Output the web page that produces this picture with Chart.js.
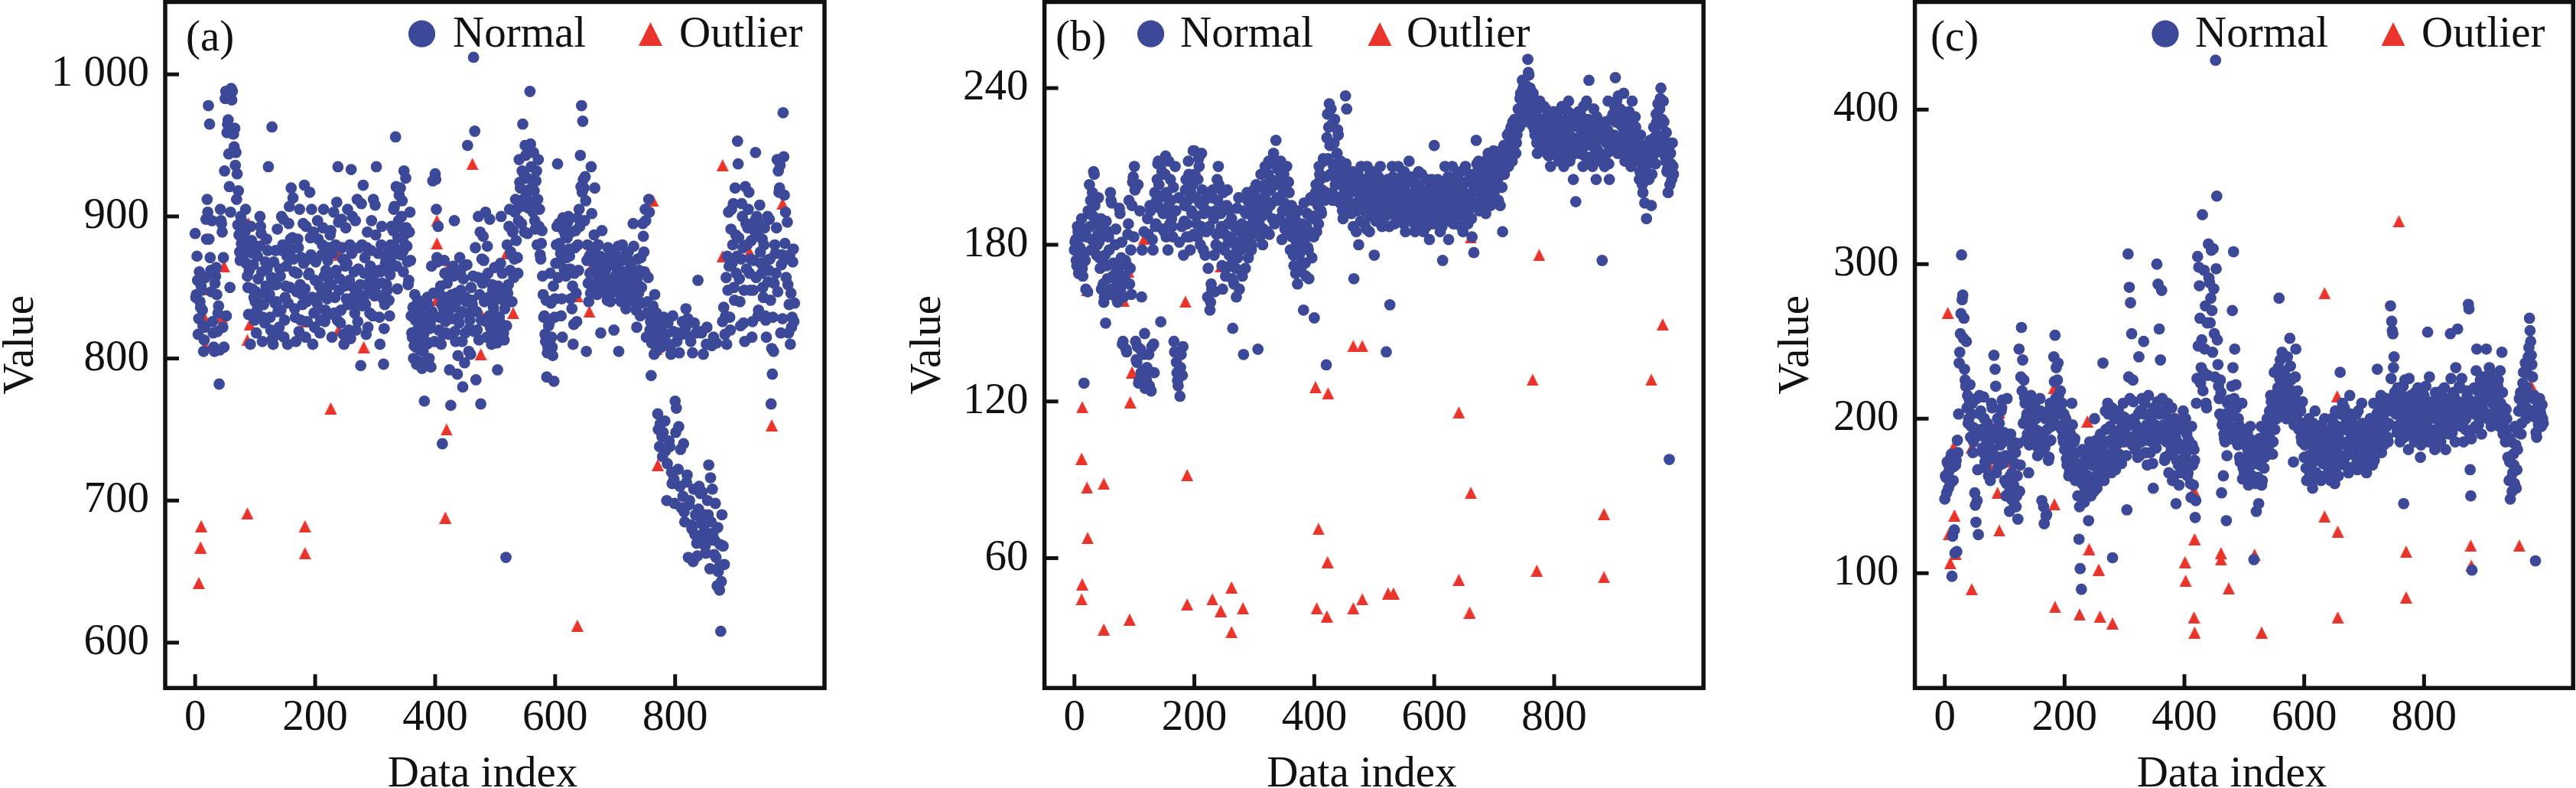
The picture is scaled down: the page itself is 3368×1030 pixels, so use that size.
<!DOCTYPE html>
<html>
<head>
<meta charset="utf-8">
<script src="https://cdn.jsdelivr.net/npm/chart.js@4.4.1/dist/chart.umd.min.js"></script>
<style>
  html, body { margin: 0; padding: 0; background: #ffffff; }
  body { width: 3368px; height: 1030px; position: relative; overflow: hidden; }
  canvas { position: absolute; top: 0; }
</style>
</head>
<body>
<canvas id="ca" width="1140" height="1030" style="left:0px"></canvas>
<canvas id="cb" width="1130" height="1030" style="left:1140px"></canvas>
<canvas id="cc" width="1098" height="1030" style="left:2270px"></canvas>
<script>
// ---------------- DATA ----------------
// Normal series: values at even data indices (0,2,...,998) and odd data indices (1,3,...,999)
const xTickValues = [0, 200, 400, 600, 800];
const yTicksA = [600, 700, 800, 900, 1000];
const yTicksB = [60, 120, 180, 240];
const yTicksC = [100, 200, 300, 400];
const seriesNames = ['Normal', 'Outlier'];
const panelLabels = ['(a)', '(b)', '(c)'];

const normalAEven = [
 888, 845, 855, 828, 840, 851, 834, 805, 822, 898,
 912, 978, 965, 862, 897, 818, 805, 858, 845, 832,
 782, 905, 895, 822, 808, 983, 830, 965, 944, 850,
 990, 988, 958, 962, 945, 930, 918, 875, 900, 885,
 870, 892, 905, 880, 850, 862, 810, 883, 874, 843,
 840, 818, 872, 845, 900, 888, 812, 838, 825, 851,
 863, 935, 845, 820, 963, 810, 852, 876, 840, 833,
 822, 858, 900, 880, 815, 843, 865, 810, 895, 850,
 920, 885, 870, 835, 812, 860, 878, 905, 827, 845,
 895, 922, 815, 840, 870, 860, 885, 905, 810, 832,
 855, 870, 897, 835, 818, 845, 880, 905, 826, 862,
 842, 878, 853, 890, 815, 860, 832, 880, 910, 935,
 848, 825, 898, 870, 810, 865, 842, 905, 820, 880,
 933, 900, 850, 832, 820, 912, 863, 845, 795, 880,
 922, 860, 838, 878, 822, 848, 865, 897, 830, 855,
 908, 935, 845, 862, 810, 880, 853, 796, 838, 870,
 848, 862, 830, 880, 872, 890, 907, 956, 865, 885,
 915, 920, 900, 875, 932, 880, 892, 868, 855, 903,
 830, 815, 800, 845, 808, 820, 798, 830, 812, 793,
 805, 770, 822, 810, 838, 800, 825, 865, 925, 830,
 930, 905, 868, 820, 845, 810, 740, 835, 860, 818,
 853, 830, 792, 767, 845, 865, 897, 812, 840, 802,
 825, 860, 833, 780, 865, 818, 840, 950, 805, 827,
 850, 838, 1012, 960, 785, 820, 900, 845, 768, 870,
 886, 840, 903, 815, 860, 830, 822, 810, 848, 832,
 826, 815, 792, 842, 820, 900, 860, 818, 835, 660,
 880, 852, 905, 875, 840, 890, 870, 912, 905, 860,
 940, 920, 895, 965, 930, 950, 915, 888, 945, 988,
 935, 910, 945, 897, 925, 880, 940, 905, 870, 890,
 845, 830, 812, 787, 808, 825, 860, 815, 802, 784,
 842, 880, 937, 895, 868, 830, 815, 890, 875, 858,
 885, 900, 872, 842, 835, 810, 860, 890, 826, 880,
 905, 943, 978, 967, 920, 928, 805, 880, 840, 860,
 935, 875, 850, 920, 862, 845, 880, 868, 818, 890,
 855, 870, 862, 845, 878, 855, 840, 850, 866, 820,
 858, 872, 848, 805, 862, 840, 880, 852, 845, 835,
 860, 875, 842, 855, 868, 895, 840, 848, 822, 870,
 862, 830, 850, 895, 875, 905, 815, 840, 912, 820,
 788, 830, 812, 845, 805, 825, 750, 738, 820, 745,
 748, 812, 735, 700, 825, 742, 808, 720, 830, 715,
 770, 765, 818, 752, 710, 695, 826, 740, 685, 835,
 718, 660, 700, 812, 680, 657, 825, 690, 670, 855,
 710, 705, 818, 675, 690, 668, 810, 700, 725, 652,
 685, 708, 815, 672, 660, 640, 650, 637, 608, 690,
 668, 655, 830, 810, 848, 865, 820, 905, 880, 850,
 920, 860, 953, 885, 840, 870, 900, 825, 812, 895,
 880, 905, 860, 870, 815, 848, 890, 945, 900, 830,
 895, 875, 860, 850, 880, 830, 815, 900, 862, 870,
 768, 789, 805, 880, 860, 940, 932, 920, 818, 873,
 973, 915, 903, 870, 852, 838, 810, 822, 868, 826
];
const normalAOdd = [
 843, 872, 817, 861, 836, 848, 823, 813, 857, 884,
 903, 884, 871, 847, 826, 808, 853, 864, 819, 837,
 806, 897, 889, 871, 932, 988, 959, 968, 921, 903,
 982, 958, 949, 936, 912, 894, 887, 869, 881, 896,
 876, 889, 867, 858, 831, 878, 893, 849, 866, 827,
 847, 834, 856, 879, 893, 861, 829, 846, 868, 884,
 876, 843, 829, 857, 814, 868, 839, 852, 891, 817,
 863, 834, 876, 898, 827, 851, 872, 839, 907, 884,
 877, 913, 861, 829, 847, 884, 819, 852, 871, 838,
 867, 849, 893, 826, 859, 917, 873, 843, 889, 822,
 868, 839, 884, 851, 827, 873, 892, 858, 834, 847,
 869, 831, 887, 852, 874, 903, 843, 862, 827, 896,
 856, 834, 878, 817, 851, 892, 867, 838, 855, 814,
 874, 843, 861, 897, 838, 826, 878, 852, 909, 837,
 843, 871, 817, 889, 853, 832, 876, 859, 912, 844,
 887, 852, 874, 829, 861, 893, 842, 821, 867, 852,
 874, 841, 859, 893, 866, 905, 878, 921, 849, 897,
 893, 873, 911, 861, 887, 927, 879, 852, 889, 869,
 818, 836, 809, 827, 796, 841, 813, 806, 822, 836,
 817, 829, 798, 843, 811, 821, 794, 833, 846, 812,
 926, 871, 893, 829, 851, 838, 817, 869, 826, 843,
 841, 817, 861, 828, 836, 858, 819, 846, 789, 829,
 871, 848, 812, 856, 797, 843, 866, 832, 821, 803,
 841, 858, 819, 878, 833, 857, 813, 889, 827, 853,
 869, 857, 826, 879, 843, 898, 817, 852, 836, 864,
 842, 811, 851, 829, 867, 824, 847, 813, 839, 823,
 846, 893, 862, 873, 889, 857, 903, 883, 871, 897,
 924, 907, 932, 912, 889, 943, 927, 906, 919, 951,
 926, 903, 918, 891, 932, 912, 893, 873, 881, 858,
 829, 817, 841, 804, 823, 812, 839, 808, 851, 829,
 867, 893, 857, 881, 874, 842, 899, 863, 887, 871,
 896, 877, 863, 889, 851, 824, 878, 846, 899, 862,
 893, 921, 917, 926, 897, 911, 869, 853, 872, 846,
 902, 868, 887, 853, 879, 867, 858, 872, 849, 861,
 863, 857, 869, 841, 852, 873, 846, 868, 851, 876,
 847, 863, 879, 857, 841, 869, 853, 861, 873, 849,
 853, 841, 867, 849, 861, 879, 853, 834, 857, 846,
 851, 871, 839, 886, 861, 897, 832, 857, 903, 826,
 811, 837, 803, 818, 832, 761, 817, 754, 808, 731,
 829, 756, 817, 726, 810, 738, 803, 712, 819, 698,
 748, 812, 722, 804, 736, 817, 703, 692, 821, 713,
 828, 697, 815, 683, 804, 708, 676, 818, 661, 694,
 819, 684, 706, 803, 679, 663, 822, 690, 672, 716,
 809, 677, 662, 698, 811, 681, 653, 669, 643, 826,
 836, 817, 857, 872, 903, 829, 891, 867, 909, 841,
 887, 872, 937, 856, 823, 909, 878, 848, 921, 863,
 892, 917, 848, 883, 826, 869, 897, 857, 888, 834,
 908, 867, 884, 843, 892, 827, 869, 854, 898, 841,
 807, 829, 853, 874, 892, 847, 917, 936, 866, 828,
 942, 881, 857, 896, 818, 873, 846, 829, 877, 839
];
const outlierAIdx = [9,15,15,17,10,9,6,48,44,76,89,91,87,87,111,185,183,183,226,240,239,260,257,281,403,403,402,420,420,419,417,462,478,476,519,530,637,637,657,659,657,763,769,771,879,879,924,961,979];
const outlierAVal = [861,849,829,809,682,667,642,865,829,879,895,824,813,691,881,826,682,663,765,873,820,852,816,808,897,881,841,863,832,750,688,937,830,803,874,832,612,844,876,863,833,911,807,725,936,872,875,753,909];

const normalBEven = [
 178, 182, 172, 185, 170, 176, 190, 168, 127, 174,
 183, 162, 192, 187, 178, 200, 208, 195, 188, 180,
 198, 175, 190, 183, 165, 160, 150, 172, 185, 178,
 200, 196, 168, 162, 180, 170, 158, 165, 192, 175,
 142, 160, 168, 140, 172, 188, 165, 178, 195, 206,
 210, 143, 135, 203, 128, 140, 160, 132, 185, 125,
 128, 190, 138, 195, 124, 182, 142, 200, 188, 205,
 212, 198, 150.5, 208, 192, 185, 214, 200, 178, 196,
 205, 190, 183, 143, 210, 135, 128, 198, 122, 138,
 130, 176, 195, 205, 188, 212, 183, 200, 192, 216,
 216, 198, 188, 205, 210, 180, 215, 195, 192, 176,
 185, 160, 200, 155, 165, 198, 190, 162, 180, 205,
 210, 185, 192, 172, 200, 178, 168, 195, 188, 176,
 172, 190, 148, 165, 180, 160, 175, 198, 185, 170,
 168, 138, 182, 192, 200, 175, 186, 195, 180, 190,
 190, 185, 198, 140, 188, 202, 196, 180, 192, 210,
 200, 185, 212, 195, 205, 190, 215, 188, 220, 198,
 205, 190, 212, 182, 200, 196, 188, 210, 185, 200,
 178, 195, 185, 172, 190, 180, 165, 185, 178, 170,
 188, 155, 182, 168, 192, 178, 185, 198, 175, 190,
 152, 200, 185, 195, 210, 205, 192, 198, 212, 200,
 134, 230, 225, 218, 232, 200, 210, 228, 205, 215,
 222, 198, 212, 205, 190, 200, 237, 232, 195, 205,
 200, 192, 208, 167, 195, 185, 205, 180, 198, 210,
 195, 200, 188, 205, 210, 192, 185, 198, 200, 208,
 176, 195, 205, 190, 198, 210, 188, 200, 195, 202,
 139, 205, 192, 157, 200, 210, 195, 188, 205, 198,
 210, 196, 202, 190, 200, 208, 185, 200, 195, 212,
 198, 190, 205, 195, 185, 200, 192, 208, 188, 198,
 195, 185, 200, 190, 205, 192, 182, 198, 205, 190,
 218, 195, 188, 205, 200, 185, 192, 174, 198, 210,
 200, 192, 182, 205, 195, 210, 188, 200, 190, 198,
 205, 192, 208, 195, 185, 200, 210, 192, 188, 198,
 205, 190, 200, 177, 195, 220, 208, 212, 200, 195,
 205, 198, 210, 192, 200, 215, 205, 195, 208, 212,
 200, 215, 210, 205, 212, 195, 208, 185, 218, 210,
 215, 222, 210, 218, 225, 212, 220, 228, 215, 222,
 232, 225, 238, 228, 240, 235, 230, 238, 251, 245,
 240, 232, 228, 236, 222, 230, 215, 225, 235, 220,
 228, 218, 225, 232, 215, 222, 230, 210, 224, 218,
 226, 215, 230, 220, 212, 225, 218, 232, 210, 222,
 228, 218, 235, 212, 225, 220, 205, 230, 196.5, 218,
 225, 215, 230, 222, 210, 228, 218, 235, 212, 243,
 225, 218, 210, 232, 220, 205, 228, 215, 222, 212,
 174, 225, 210, 220, 215, 235, 205, 228, 218, 230,
 222, 244, 235, 215, 228, 232, 218, 225, 238, 212,
 230, 222, 215, 228, 210, 235, 220, 212, 225, 218,
 212, 205, 222, 215, 200, 218, 210, 190, 215, 205,
 220, 195, 212, 225, 215, 230, 222, 218, 232, 240,
 228, 235, 220, 212, 208, 200, 97.8, 215, 205, 210
];
const normalBOdd = [
 181, 174, 187, 169, 179, 183, 171, 186, 177, 163,
 186, 193, 203, 197, 182, 191, 207, 189, 176, 184,
 181, 171, 163, 187, 158, 176, 189, 167, 183, 161,
 197, 163, 173, 167, 186, 159, 171, 194, 163, 181,
 143, 167, 174, 139, 184, 197, 171, 161, 204, 183,
 201, 136, 141, 127, 193, 131, 178, 138, 146, 129,
 133, 184, 126, 193, 141, 178, 131, 187, 197, 211,
 203, 194, 211, 186, 199, 207, 183, 193, 212, 188,
 197, 187, 202, 139, 193, 131, 126, 181, 133, 187,
 141, 189, 201, 183, 197, 207, 178, 193, 203, 184,
 207, 191, 183, 213, 196, 187, 201, 178, 197, 186,
 193, 171, 187, 158, 163, 201, 176, 193, 184, 197,
 203, 179, 187, 163, 194, 184, 171, 201, 181, 193,
 183, 167, 176, 187, 171, 194, 181, 163, 178, 188,
 179, 193, 171, 187, 197, 183, 192, 178, 188, 201,
 194, 203, 187, 196, 183, 207, 191, 186, 203, 197,
 193, 207, 184, 201, 196, 211, 189, 203, 197, 209,
 211, 197, 203, 193, 207, 186, 201, 193, 204, 189,
 191, 183, 176, 188, 169, 181, 193, 176, 184, 173,
 181, 196, 173, 187, 179, 167, 191, 184, 197, 183,
 191, 203, 196, 188, 207, 193, 201, 213, 197, 206,
 221, 213, 234, 207, 226, 197, 219, 203, 211, 224,
 207, 196, 203, 193, 208, 199, 211, 201, 193, 206,
 196, 203, 187, 194, 201, 193, 207, 197, 189, 203,
 203, 193, 197, 186, 203, 196, 207, 191, 201, 193,
 203, 189, 197, 206, 193, 201, 187, 196, 203, 191,
 196, 203, 187, 199, 193, 206, 201, 191, 197, 204,
 201, 193, 206, 197, 188, 203, 196, 191, 204, 198,
 193, 206, 197, 188, 201, 196, 203, 191, 197, 207,
 201, 193, 197, 187, 196, 201, 193, 204, 188, 196,
 203, 197, 189, 201, 193, 197, 187, 203, 196, 191,
 196, 206, 193, 189, 203, 197, 193, 206, 188, 201,
 193, 203, 187, 201, 196, 191, 204, 197, 193, 207,
 197, 183, 203, 207, 196, 211, 201, 193, 206, 199,
 211, 203, 196, 207, 213, 201, 197, 209, 203, 216,
 207, 203, 213, 197, 209, 216, 202, 211, 207, 214,
 211, 218, 223, 214, 219, 227, 216, 224, 219, 226,
 228, 236, 231, 243, 227, 233, 241, 229, 246, 236,
 231, 226, 238, 224, 231, 219, 234, 227, 223, 216,
 221, 233, 219, 226, 229, 214, 221, 227, 217, 231,
 219, 226, 214, 228, 223, 217, 233, 221, 227, 214,
 223, 231, 217, 226, 214, 221, 228, 216, 227, 219,
 231, 221, 217, 227, 233, 214, 224, 219, 228, 221,
 219, 227, 214, 223, 218, 229, 216, 224, 213, 226,
 221, 214, 227, 219, 224, 211, 221, 216, 228, 219,
 233, 227, 221, 237, 216, 226, 219, 231, 223, 216,
 226, 219, 231, 214, 223, 227, 217, 229, 221, 213,
 217, 208, 213, 203, 209, 196, 214, 206, 211, 218,
 213, 207, 219, 221, 211, 227, 234, 216, 236, 226,
 219, 227, 214, 223, 209, 217, 203, 211, 219, 207
];
const outlierBIdx = [21,13,12,21,49,22,13,12,49,82,90,96,93,92,116,185,188,188,230,244,262,262,281,244,402,423,407,422,404,421,422,465,480,465,480,523,532,641,661,661,641,659,764,775,771,883,883,925,962,981];
const outlierBVal = [162.6,117.8,98.1,87,88.5,67.7,50,44.2,32.7,158.6,169.7,131.2,119.7,36.5,182.2,158.2,91.8,42.3,44.2,39.8,48.8,31.7,40.8,171.7,125.5,123.1,71.2,58.5,40.8,37.7,200.2,141.2,141.2,40.8,44.2,46.5,46.5,115.8,182.8,85,51.7,39.2,128.3,176.1,55.2,76.9,52.7,219.8,128.3,149.5];

const normalCEven = [
 148, 162, 172, 155, 168, 175, 98, 160, 128, 170,
 114, 178, 236, 255, 306, 280, 265, 225, 250, 215,
 200, 222, 195, 210, 185, 152, 133, 147, 125, 215,
 205, 190, 178, 200, 168, 185, 195, 175, 160, 210,
 180, 241, 232, 165, 200, 190, 175, 205, 212, 185,
 160, 150, 213, 175, 140, 190, 165, 185, 145, 178,
 150, 135, 245, 170, 259, 238, 225, 210, 200, 190,
 165, 205, 215, 195, 188, 210, 200, 182, 192, 178,
 205, 147, 190, 132, 200, 138, 185, 175, 210, 195,
 200, 240, 254, 233, 225, 215, 195, 205, 210, 185,
 180, 200, 170, 195, 165, 190, 210, 175, 185, 160,
 170, 150, 122, 103, 89.6, 180, 165, 155, 175, 160,
 134, 185, 150, 170, 160, 200, 175, 155, 165, 180,
 190, 170, 236, 160, 205, 185, 210, 175, 195, 165,
 110, 180, 200, 170, 190, 205, 175, 185, 195, 210,
 185, 200, 141, 306.6, 285, 275, 255, 225, 200, 180,
 195, 175, 240, 205, 185, 190, 250, 210, 195, 170,
 215, 190, 200, 185, 155, 205, 190, 300, 287, 258,
 238, 283, 205, 195, 175, 185, 210, 165, 195, 180,
 160, 190, 200, 145, 185, 170, 195, 165, 180, 205,
 175, 200, 190, 165, 185, 158, 195, 170, 180, 136,
 210, 305, 298, 265, 233, 332, 230, 245, 210, 262,
 313, 288, 278, 270, 310, 255, 432, 344, 235, 213,
 225, 152, 200, 190, 185, 134, 210, 200, 195, 205,
 270, 308, 245, 222, 185, 200, 175, 190, 210, 168,
 165, 190, 175, 180, 160, 195, 170, 185, 108.8, 175,
 140, 180, 145, 170, 195, 160, 185, 175, 190, 200,
 180, 205, 215, 195, 185, 230, 210, 200, 220, 278,
 238, 215, 205, 225, 210, 200, 240, 215, 252, 225,
 205, 172, 215, 245, 200, 210, 195, 205, 185, 190,
 175, 195, 160, 185, 200, 170, 190, 155, 180, 205,
 165, 185, 175, 195, 160, 185, 180, 200, 170, 190,
 185, 175, 160, 200, 190, 165, 205, 180, 195, 170,
 230, 185, 210, 195, 175, 200, 185, 165, 215, 190,
 200, 180, 195, 170, 185, 205, 175, 190, 210, 195,
 175, 190, 165, 185, 180, 200, 195, 170, 210, 185,
 195, 232, 205, 180, 215, 190, 200, 185, 210, 195,
 185, 205, 273, 263, 255, 240, 210, 195, 220, 205,
 185, 200, 215, 145, 225, 195, 210, 180, 200, 215,
 190, 205, 185, 210, 195, 220, 200, 175, 205, 190,
 215, 195, 210, 256, 185, 200, 205, 190, 210, 180,
 200, 215, 190, 205, 185, 210, 195, 220, 180, 200,
 205, 190, 255, 210, 195, 215, 185, 205, 258, 200,
 220, 195, 210, 185, 205, 200, 215, 274, 190, 150,
 102, 205, 220, 195, 245, 210, 200, 225, 190, 215,
 205, 220, 245, 200, 215, 230, 195, 210, 225, 205,
 215, 200, 225, 195, 210, 243, 190, 205, 185, 200,
 175, 160, 148, 185, 165, 170, 195, 155, 180, 205,
 205, 190, 210, 230, 215, 200, 220, 240, 265, 250,
 235, 205, 215, 108, 188, 200, 210, 205, 195, 200
];
const normalCOdd = [
 163, 152, 171, 166, 158, 177, 124, 169, 113, 173,
 186, 203, 243, 268, 277, 252, 232, 221, 207, 197,
 212, 188, 203, 178, 194, 144, 213, 167, 189, 203,
 193, 181, 214, 172, 189, 197, 163, 186, 174, 207,
 176, 193, 221, 187, 169, 197, 183, 207, 171, 191,
 176, 158, 187, 152, 163, 148, 181, 157, 171, 143,
 163, 184, 153, 227, 218, 197, 214, 186, 203, 196,
 183, 197, 206, 188, 211, 193, 204, 176, 186, 213,
 191, 203, 143, 181, 137, 193, 173, 206, 186, 198,
 207, 224, 213, 196, 236, 203, 218, 193, 188, 203,
 193, 174, 187, 163, 181, 172, 196, 168, 187, 171,
 178, 163, 143, 171, 158, 167, 146, 173, 151, 163,
 157, 176, 161, 181, 153, 169, 186, 158, 172, 163,
 177, 163, 183, 171, 193, 177, 203, 168, 186, 207,
 173, 191, 167, 183, 203, 177, 193, 171, 186, 201,
 193, 176, 188, 227, 213, 196, 183, 211, 189, 196,
 183, 203, 176, 193, 213, 187, 203, 178, 196, 186,
 203, 178, 193, 171, 207, 196, 181, 211, 193, 203,
 187, 213, 196, 173, 203, 189, 176, 197, 183, 207,
 177, 163, 188, 173, 197, 157, 181, 168, 193, 183,
 194, 178, 163, 186, 171, 149, 183, 157, 173, 147,
 226, 247, 286, 223, 251, 218, 296, 273, 207, 228,
 291, 262, 309, 243, 284, 227, 297, 251, 221, 203,
 217, 196, 163, 187, 203, 176, 193, 212, 187, 221,
 233, 213, 191, 207, 183, 196, 172, 187, 161, 193,
 183, 168, 191, 157, 187, 176, 163, 182, 171, 158,
 178, 162, 187, 173, 157, 183, 168, 191, 177, 184,
 196, 187, 211, 177, 203, 193, 216, 207, 233, 226,
 221, 243, 213, 231, 207, 219, 226, 209, 234, 218,
 211, 196, 227, 203, 218, 193, 207, 188, 211, 197,
 183, 168, 192, 176, 163, 187, 171, 197, 161, 183,
 173, 191, 163, 181, 196, 171, 187, 163, 193, 177,
 191, 168, 183, 173, 197, 158, 186, 176, 163, 191,
 203, 176, 193, 207, 183, 169, 197, 181, 203, 177,
 187, 193, 176, 203, 167, 191, 183, 173, 197, 181,
 168, 183, 193, 171, 188, 176, 191, 183, 173, 197,
 203, 187, 211, 193, 178, 207, 183, 196, 213, 188,
 197, 211, 226, 257, 233, 217, 203, 191, 211, 196,
 208, 193, 221, 188, 203, 213, 191, 226, 197, 211,
 203, 193, 217, 187, 211, 197, 207, 183, 213, 203,
 196, 221, 188, 207, 227, 193, 211, 201, 186, 217,
 193, 211, 203, 187, 218, 197, 207, 191, 213, 203,
 211, 197, 226, 191, 217, 203, 233, 196, 211, 221,
 203, 226, 197, 211, 193, 218, 207, 271, 167, 187,
 193, 211, 203, 231, 218, 196, 213, 203, 227, 211,
 213, 227, 203, 221, 233, 211, 226, 203, 218, 213,
 203, 221, 211, 231, 196, 217, 207, 193, 206, 193,
 188, 172, 161, 153, 177, 158, 183, 167, 191, 213,
 217, 197, 223, 211, 236, 207, 229, 246, 257, 241,
 227, 213, 201, 191, 207, 196, 213, 203, 209, 197
];
const outlierCIdx = [5,7,9,18,16,15,45,45,75,91,87,88,91,110,182,183,184,225,238,241,257,259,280,398,416,417,401,402,416,417,461,461,474,517,529,634,634,655,656,656,758,770,770,878,879,921,959,978];
const outlierCVal = [268.5,125.4,106.5,112.4,137.4,182,181.3,89.6,169,204,191.8,152,127.6,172.2,219.7,144.6,78.2,73.3,198.3,115.6,102.3,72,67.5,204.8,153.4,122.1,107.2,95.1,71.4,61.6,113,108.8,90.2,112,61.6,281.2,136.8,214.5,127,71.4,327.8,114,84.4,117.9,104.9,212.3,117.9,222];

// ---------------- STYLE ----------------
const BLUE = '#3C4898';
const RED = '#E8342A';
const INK = '#111111';
const FONT = "'Liberation Serif', 'Times New Roman', serif";
const FS = 57;

function makeTriangle(size, color) {
  const c = document.createElement('canvas');
  c.width = size; c.height = size;
  const g = c.getContext('2d');
  g.fillStyle = color;
  g.beginPath();
  g.moveTo(size / 2, 0);
  g.lineTo(size, size);
  g.lineTo(0, size);
  g.closePath();
  g.fill();
  return c;
}

function fmtTick(v) {
  return String(v).replace(/\B(?=(\d{3})+(?!\d))/g, ' ');
}

const panelPlugin = {
  id: 'panelDecor',
  afterDraw(chart) {
    const o = chart.options.plugins.panelDecor;
    const ctx = chart.ctx;
    const a = chart.chartArea;
    const xs = chart.scales.x, ys = chart.scales.y;
    ctx.save();
    ctx.strokeStyle = INK;
    ctx.lineWidth = 5;
    ctx.lineCap = 'butt';
    xTickValues.forEach(v => {
      const px = xs.getPixelForValue(v);
      ctx.beginPath(); ctx.moveTo(px, a.bottom); ctx.lineTo(px, a.bottom - 18); ctx.stroke();
    });
    o.yTicks.forEach(v => {
      const py = ys.getPixelForValue(v);
      ctx.beginPath(); ctx.moveTo(a.left, py); ctx.lineTo(a.left + 18, py); ctx.stroke();
    });
    ctx.lineWidth = 5.5;
    ctx.lineJoin = 'miter';
    ctx.strokeRect(a.left, a.top, a.right - a.left, a.bottom - a.top);
    ctx.fillStyle = INK;
    ctx.font = FS + 'px ' + FONT;
    ctx.textBaseline = 'alphabetic';
    ctx.textAlign = 'left';
    ctx.fillText(o.label, a.left + o.lg.label, 66);
    ctx.fillText(seriesNames[0], a.left + o.lg.normal, 61);
    ctx.fillText(seriesNames[1], a.left + o.lg.outlier, 61);
    ctx.fillStyle = BLUE;
    ctx.beginPath(); ctx.arc(a.left + o.lg.circle, 44.2, 17.6, 0, Math.PI * 2); ctx.fill();
    ctx.fillStyle = RED;
    const tx = a.left + o.lg.tri, ty = 44.5, h = 15.5;
    ctx.beginPath(); ctx.moveTo(tx, ty - h); ctx.lineTo(tx + h, ty + h); ctx.lineTo(tx - h, ty + h); ctx.closePath(); ctx.fill();
    ctx.fillStyle = INK;
    ctx.textAlign = 'center';
    ctx.fillText('Data index', (a.left + a.right) / 2 - 16, 1028);
    ctx.translate(a.left + o.yTitleOffset, (a.top + a.bottom) / 2);
    ctx.rotate(-Math.PI / 2);
    ctx.fillText('Value', 0, 0);
    ctx.restore();
  }
};

function buildPanel(id, cfg, triMarker) {
  const normalPts = [];
  cfg.even.forEach((v, i) => normalPts.push({ x: 2 * i, y: v }));
  cfg.odd.forEach((v, i) => normalPts.push({ x: 2 * i + 1, y: v }));
  normalPts.sort((p, q) => p.x - q.x);
  const outPts = cfg.outIdx.map((ix, i) => ({ x: ix, y: cfg.outVal[i] }));
  const canvasW = document.getElementById(id).width;
  new Chart(document.getElementById(id), {
    type: 'scatter',
    data: {
      datasets: [
        { label: seriesNames[0], data: normalPts, pointStyle: 'circle', pointRadius: 7.4,
          backgroundColor: BLUE, borderWidth: 0 },
        { label: seriesNames[1], data: outPts, pointStyle: triMarker, pointRadius: 8,
          backgroundColor: RED, borderWidth: 0 }
      ]
    },
    options: {
      responsive: false,
      animation: false,
      devicePixelRatio: 1,
      events: [],
      layout: { autoPadding: false, padding: { left: 0, top: 2.5, right: canvasW - cfg.areaRight, bottom: 0 } },
      plugins: {
        legend: { display: false },
        tooltip: { enabled: false },
        panelDecor: { label: cfg.label, yTicks: cfg.yTicks, lg: cfg.lg, yTitleOffset: cfg.yTitleOffset }
      },
      scales: {
        x: {
          type: 'linear', position: 'bottom', min: -49.95, max: 1048.95,
          grid: { display: false, drawTicks: false, tickLength: 0 },
          border: { display: false },
          afterBuildTicks: s => { s.ticks = xTickValues.map(v => ({ value: v })); },
          afterFit: s => { s.height = 1030 - 899.3; s.paddingLeft = 0; s.paddingRight = 0; s.paddingTop = 0; s.paddingBottom = 0; },
          ticks: { color: INK, font: { family: FONT, size: FS }, padding: 6, maxRotation: 0, autoSkip: false,
                   callback: v => fmtTick(v) }
        },
        y: {
          type: 'linear', position: 'left', min: cfg.yMin, max: cfg.yMax,
          grid: { display: false, drawTicks: false, tickLength: 0 },
          border: { display: false },
          afterBuildTicks: s => { s.ticks = cfg.yTicks.map(v => ({ value: v })); },
          afterFit: s => { s.width = cfg.areaLeft; s.paddingTop = 0; s.paddingBottom = 0; s.paddingLeft = 0; s.paddingRight = 0; },
          ticks: { color: INK, font: { family: FONT, size: FS }, padding: 21, autoSkip: false,
                   callback: v => fmtTick(v) }
        }
      }
    },
    plugins: [panelPlugin]
  });
}

function drawAll() {
  Chart.defaults.font.family = FONT;
  const tri = makeTriangle(16, RED);
  buildPanel('ca', {
    even: normalAEven, odd: normalAOdd, outIdx: outlierAIdx, outVal: outlierAVal,
    yMin: 568.05, yMax: 1051, yTicks: yTicksA, label: panelLabels[0],
    areaLeft: 216, areaRight: 1078, yTitleOffset: -173,
    lg: { label: 27, circle: 335.5, normal: 376, tri: 634.5, outlier: 672 }
  }, tri);
  buildPanel('cb', {
    even: normalBEven, odd: normalBOdd, outIdx: outlierBIdx, outVal: outlierBVal,
    yMin: 10.27, yMax: 273, yTicks: yTicksB, label: panelLabels[1],
    areaLeft: 225.6, areaRight: 1087.2, yTitleOffset: -136.6,
    lg: { label: 14.4, circle: 139, normal: 177.4, tri: 438.4, outlier: 473.4 }
  }, tri);
  buildPanel('cc', {
    even: normalCEven, odd: normalCOdd, outIdx: outlierCIdx, outVal: outlierCVal,
    yMin: 25.7, yMax: 469.7, yTicks: yTicksC, label: panelLabels[2],
    areaLeft: 233.6, areaRight: 1094.3, yTitleOffset: -139.6,
    lg: { label: 20.4, circle: 327.4, normal: 366.4, tri: 625.4, outlier: 662.4 }
  }, tri);
}

let drawn = false;
function go() { if (!drawn) { drawn = true; drawAll(); } }
if (document.fonts && document.fonts.load) {
  document.fonts.load("57px 'Liberation Serif'").then(go, go);
  setTimeout(go, 1500);
} else {
  go();
}
</script>
</body>
</html>
